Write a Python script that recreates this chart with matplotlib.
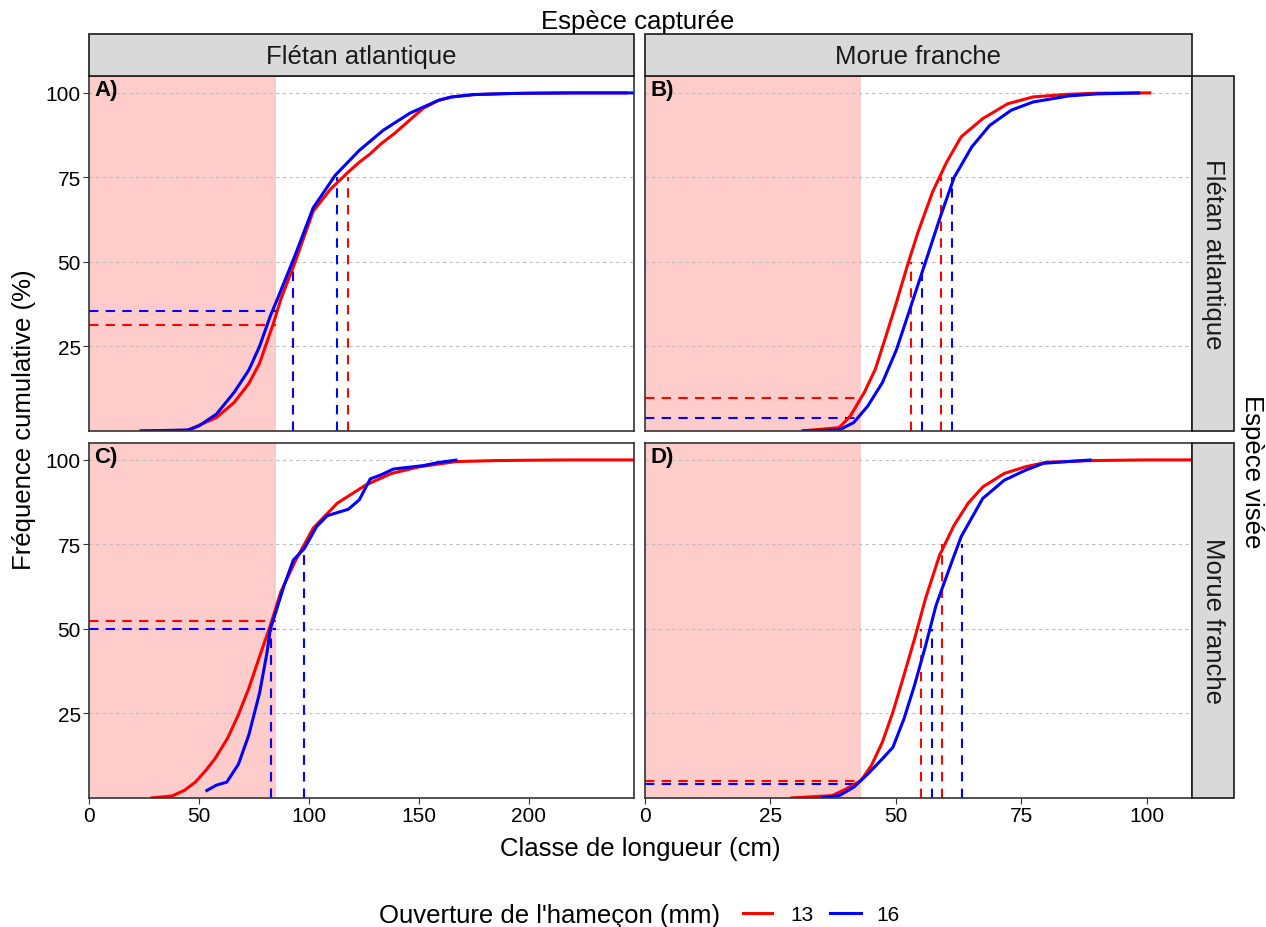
import matplotlib
matplotlib.use("Agg")
import matplotlib.pyplot as plt
from matplotlib.lines import Line2D
from matplotlib.patches import Rectangle

plt.rcParams['font.family'] = ['Liberation Sans', 'DejaVu Sans']

# ---------------- data ----------------
col_labels = ["Flétan atlantique", "Morue franche"]   # Espèce capturée
row_labels = ["Flétan atlantique", "Morue franche"]   # Espèce visée
panel_tags = ["A)", "B)", "C)", "D)"]
hook_labels = ["13", "16"]
min_size = [85, 43]          # taille minimale par espèce capturée (cm)
x_max = [248, 109]
y_ticks = [25, 50, 75, 100]
x_ticks = [[0, 50, 100, 150, 200], [0, 25, 50, 75, 100]]

# Panel A : Flétan capturé / Flétan visé
A_x13 = [23, 45, 58, 66, 72.7, 77.6, 80.8, 84, 87.3, 93.8, 102, 110, 118, 123, 128, 133, 139, 146, 152, 159, 165, 175, 190, 200, 220, 245]
A_y13 = [0, 0.2, 4, 8.4, 14, 20, 26, 32, 39, 50, 65, 71.6, 76.6, 79.5, 82, 85, 88, 92, 95.4, 97.8, 98.8, 99.5, 99.8, 99.9, 100, 100]
A_x16 = [23, 45, 50, 58, 66, 72.7, 77.6, 82.5, 85.7, 93.8, 102, 112, 123, 134, 146, 159, 165, 175, 190, 200, 220, 248]
A_y16 = [0, 0.3, 1.5, 5, 11.4, 18, 25, 34, 39, 52, 66, 75.6, 83, 89, 94, 97.8, 98.8, 99.5, 99.8, 99.9, 100, 100]

# Panel B : Morue capturée / Flétan visé
B_x13 = [31.2, 38.7, 40.9, 43.7, 45.9, 48, 50.1, 52.3, 54.4, 57.3, 60.1, 63, 67.3, 72.3, 77.3, 84.4, 90, 100.9]
B_y13 = [0, 1, 4.4, 11.4, 18.3, 28, 38, 49, 58.8, 70.7, 79.5, 87, 92.4, 96.8, 98.8, 99.6, 99.9, 100]
B_x16 = [31.2, 38.7, 41.6, 44.4, 47.3, 50.1, 53, 55.9, 58.7, 61.6, 65.1, 68.7, 73, 77.3, 84.4, 90, 98.7]
B_y16 = [0, 0.3, 2.5, 7.4, 14.3, 24, 37, 50, 62.7, 75, 84, 90.4, 94.9, 97.3, 99.1, 99.7, 100]

# Panel C : Flétan capturé / Morue visée
C_x13 = [28, 37.8, 43.5, 48.4, 53.2, 57.3, 63, 67.9, 72.7, 77.6, 82.5, 87.3, 93.8, 102, 113, 126, 137.7, 150.6, 167, 185, 200, 220, 248]
C_y13 = [0, 0.6, 2.3, 4.7, 8.2, 11.6, 17.6, 24.5, 32.4, 41.8, 51, 61, 70, 79.8, 87.2, 92.6, 96, 98, 99.5, 99.8, 99.9, 100, 100]
C_x16 = [53, 58, 62.7, 68, 72.7, 77.6, 81, 82.5, 85, 88.6, 93, 98, 103.6, 108.4, 118, 123, 128, 133, 138.5, 152, 158.8, 167.7]
C_y16 = [2, 3.8, 4.7, 10, 18.6, 31, 43, 50, 55, 62.5, 70.4, 73.8, 80.3, 83.5, 85.4, 88.2, 94.4, 95.6, 97.3, 98.3, 99.2, 100]

# Panel D : Morue capturée / Morue visée
D_x13 = [29, 37.3, 40.1, 43, 45.1, 47.3, 49.4, 51.6, 53.7, 55.9, 58.7, 61.6, 64.4, 67.3, 71.6, 75.9, 80, 89, 100, 109]
D_y13 = [0, 0.7, 2.7, 5.1, 9.6, 16.5, 25.4, 36.3, 47, 59, 71.8, 80.7, 87.2, 92, 96, 98, 99.3, 99.8, 100, 100]
D_x16 = [35, 38.7, 41.6, 44.4, 47.3, 49.4, 51.6, 53.7, 55.9, 58, 60.9, 63, 67.3, 71.6, 75.9, 79.4, 89]
D_y16 = [0, 0.7, 3.2, 7.1, 11.6, 15, 23.4, 33.3, 45, 57, 68.9, 77.3, 88.6, 94, 97, 99, 100]

# % cumulé à la taille minimale (13 mm, 16 mm)
pct_at_min13 = [31.3, 9.7, 52.4, 5.1]
pct_at_min16 = [35.4, 3.8, 50.0, 4.1]
# L50 et L75 (cm)
L50_13 = [93.0, 53.0, 82.8, 55.0]
L50_16 = [93.0, 55.1, 82.8, 57.1]
L75_13 = [118.0, 58.9, 97.9, 59.1]
L75_16 = [113.0, 61.1, 97.9, 63.1]

curves13 = [(A_x13, A_y13), (B_x13, B_y13), (C_x13, C_y13), (D_x13, D_y13)]
curves16 = [(A_x16, A_y16), (B_x16, B_y16), (C_x16, C_y16), (D_x16, D_y16)]

# ---------------- figure ----------------
W, H = 1266, 928
fig = plt.figure(figsize=(W / 100, H / 100), dpi=100)

def fx(px):
    return px / W

def fy(py):
    return 1 - py / H

col_px = [(89, 634), (645, 1192)]
row_px = [(77, 432), (444, 799)]
RED = "#FF0000"
BLUE = "#0000FF"
colors = [RED, BLUE]
border_col = "#333333"
dash = (0, (4.5, 3.5))
TICK_FS = 15
TITLE_FS = 18.5

for r in range(2):
    for c in range(2):
        k = r * 2 + c
        x0, x1 = col_px[c]
        y0, y1 = row_px[r]
        ax = fig.add_axes([fx(x0), fy(y1), fx(x1) - fx(x0), fy(y0) - fy(y1)])
        ax.set_xlim(0, x_max[c])
        ax.set_ylim(0, 105)
        ax.axvspan(0, min_size[c], color=RED, alpha=0.2, lw=0, zorder=0)
        for yt in y_ticks:
            ax.axhline(yt, color="#BEBEBE", lw=0.8, ls=(0, (3, 3)), zorder=1)
        # reference lines
        for pct, l50, l75, colr in [(pct_at_min13[k], L50_13[k], L75_13[k], RED),
                                     (pct_at_min16[k], L50_16[k], L75_16[k], BLUE)]:
            ax.plot([0, min_size[c]], [pct, pct], color=colr, lw=1.5, ls=dash, zorder=2)
            ax.plot([l50, l50], [0, 50], color=colr, lw=1.5, ls=dash, zorder=2)
            ax.plot([l75, l75], [0, 75], color=colr, lw=1.5, ls=dash, zorder=2)
        ax.plot(*curves13[k], color=RED, lw=2.2, zorder=3, solid_capstyle='butt')
        ax.plot(*curves16[k], color=BLUE, lw=2.2, zorder=4, solid_capstyle='butt')
        ax.text(0.010, 0.992, panel_tags[k], transform=ax.transAxes, ha='left', va='top',
                fontsize=16, fontweight='bold', color='black', zorder=6)
        ax.set_yticks(y_ticks)
        ax.set_xticks(x_ticks[c])
        ax.tick_params(direction='out', length=4, width=0.8, color=border_col,
                       labelsize=TICK_FS, labelcolor='black', pad=2)
        if c == 1:
            ax.tick_params(axis='y', left=False, labelleft=False)
        if r == 0:
            ax.tick_params(axis='x', bottom=False, labelbottom=False)
        for s in ax.spines.values():
            s.set_color(border_col)
            s.set_linewidth(1.2)
            s.set_zorder(7)

# strips
strip_fill = "#D9D9D9"
for c in range(2):
    x0, x1 = col_px[c]
    fig.add_artist(Rectangle((fx(x0), fy(77)), fx(x1) - fx(x0), fy(35) - fy(77),
                             transform=fig.transFigure, facecolor=strip_fill,
                             edgecolor="#1A1A1A", lw=1.2))
    fig.text(fx((x0 + x1) / 2), fy(57), col_labels[c], ha='center', va='center',
             fontsize=TITLE_FS, color="#1A1A1A")
for r in range(2):
    y0, y1 = row_px[r]
    fig.add_artist(Rectangle((fx(1192), fy(y1)), fx(1234) - fx(1192), fy(y0) - fy(y1),
                             transform=fig.transFigure, facecolor=strip_fill,
                             edgecolor="#1A1A1A", lw=1.2))
    fig.text(fx(1213), fy((y0 + y1) / 2), row_labels[r], ha='center', va='center',
             fontsize=TITLE_FS, color="#1A1A1A", rotation=-90)

fig.text(fx(638), fy(22), "Espèce capturée", ha='center', va='center', fontsize=TITLE_FS)
fig.text(fx(1252), fy(472), "Espèce visée", ha='center', va='center', fontsize=TITLE_FS, rotation=-90)
fig.text(fx(24), fy(420), "Fréquence cumulative (%)", ha='center', va='center',
         fontsize=TITLE_FS, rotation=90)
fig.text(fx(640), fy(849), "Classe de longueur (cm)", ha='center', va='center', fontsize=TITLE_FS)

# legend
fig.text(fx(379), fy(916), "Ouverture de l'hameçon (mm)", ha='left', va='center', fontsize=TITLE_FS)
leg_pos = [(743, 772, 790), (830, 861, 876)]
for (lx0, lx1, tx), colr, lab in zip(leg_pos, colors, hook_labels):
    fig.add_artist(Line2D([fx(lx0), fx(lx1)], [fy(914), fy(914)], transform=fig.transFigure,
                          color=colr, lw=2.2))
    fig.text(fx(tx), fy(916), lab, ha='left', va='center', fontsize=TICK_FS)

fig.savefig("out.png", dpi=100, facecolor='white')
